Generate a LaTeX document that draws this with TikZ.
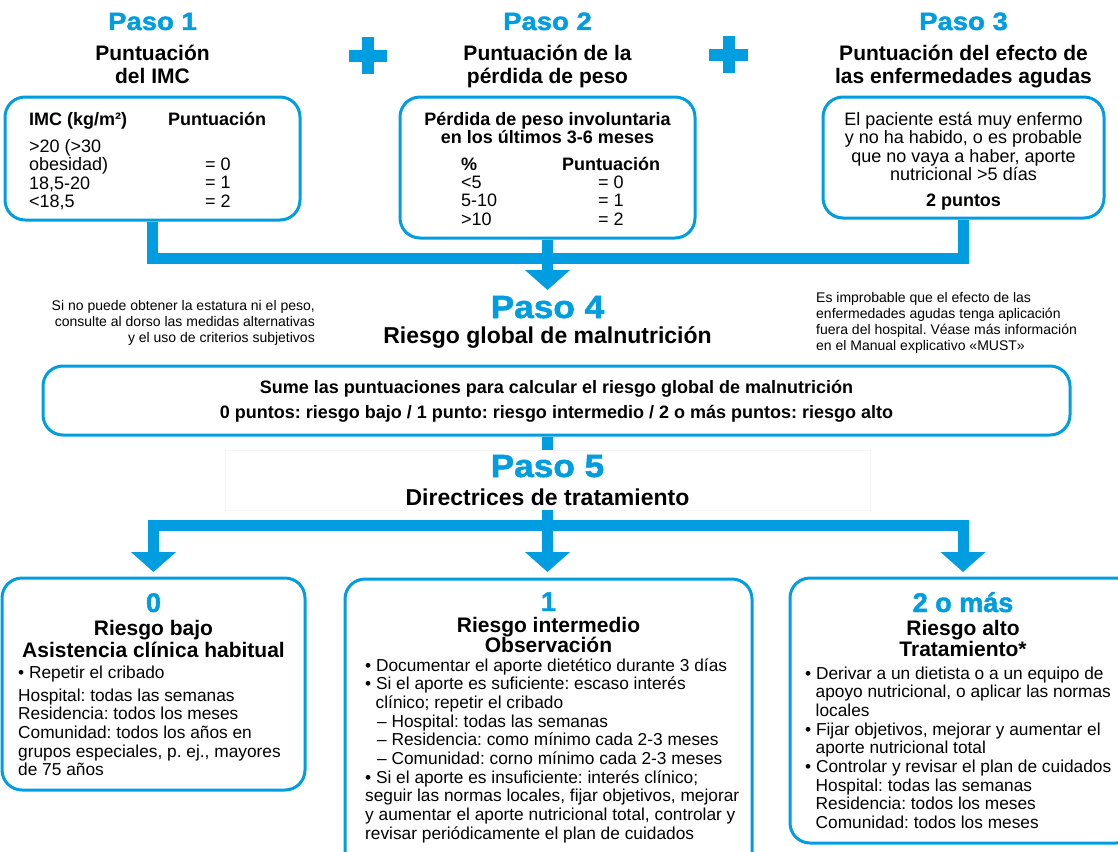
\documentclass[tikz,border=0pt]{standalone}
\usepackage{fontspec}
\setmainfont{Liberation Sans}
\newfontfamily\pasofont{Liberation Sans Bold}[FakeBold=1.6]
\usetikzlibrary{arrows.meta,calc}
\definecolor{mblue}{RGB}{0,158,224}
\newcommand{\fsz}[2]{\fontsize{#1}{#2}\selectfont}
\newcommand{\ts}{\rule{0pt}{0.8em}}
\newcommand{\pstr}[1]{\scalebox{1.1}[1]{#1}}
\setlength{\lineskiplimit}{-50pt}
\frenchspacing
\begin{document}
\begin{tikzpicture}[x=1pt,y=-1pt,
  pasoA/.style={anchor=base,text=mblue,inner sep=0,font=\fsz{25}{30}\pasofont},
  pasoB/.style={anchor=base,text=mblue,inner sep=0,font=\fsz{32}{38}\pasofont},
  head/.style={anchor=north,align=center,inner sep=0,font=\fsz{21}{23}\bfseries},
  boxs/.style={draw=mblue,line width=3pt,rounded corners=20pt,inner sep=0,fill=white},
  tb/.style={inner sep=0,font=\fsz{18}{18.5}\bfseries},
  tr/.style={inner sep=0,font=\fsz{18}{18.5}},
  br/.style={inner sep=0,font=\fsz{17.3}{18.65}},
  bt/.style={anchor=north,align=center,inner sep=0,font=\fsz{21}{21}\bfseries},
  bn/.style={anchor=base,text=mblue,inner sep=0,font=\fsz{27}{30}\pasofont},
  note/.style={inner sep=0,font=\fsz{14}{16}},
  conn/.style={draw=mblue,line width=11pt,line join=miter},
  tipa/.style={-{Triangle[width=44pt,length=20pt]}}
]
\useasboundingbox (0,0) rectangle (1118,851);
\clip (0,0) rectangle (1118,851);

% ---------- Step 1-3 headings ----------
\node[pasoA] (p1) at (152.5,30) {\pstr{Paso 1}};
\node[head] (h1) at (152.5,43.2) {\ts Puntuación\\del IMC};
\node[pasoA] (p2) at (547.5,30) {\pstr{Paso 2}};
\node[head] (h2) at (547.5,43.2) {\ts Puntuación de la\\pérdida de peso};
\node[pasoA] (p3) at (963.5,30) {\pstr{Paso 3}};
\node[head] (h3) at (963.5,43.2) {\ts Puntuación del efecto de\\las enfermedades agudas};

% plus signs
\fill[mblue] (349,50) rectangle (387,62);
\fill[mblue] (362,37) rectangle (374,74);
\fill[mblue] (709,49) rectangle (748,61);
\fill[mblue] (722.5,36) rectangle (734.5,73);

% ---------- top connectors ----------
\coordinate (barc) at (547.5,258);
\coordinate (p4tip) at (547.5,290);

% ---------- boxes 1-3 ----------
\node[boxs,minimum width=295pt,minimum height=123pt] (b1) at (152.5,158.5) {};
\node[boxs,minimum width=295pt,minimum height=141pt] (b2) at (547.5,167.5) {};
\node[boxs,minimum width=281pt,minimum height=121pt] (b3) at (963.5,157.5) {};

\draw[conn] (b1.south) |- (barc) -| (b3.south);
\draw[conn,tipa] (b2.south) -- (p4tip);

% box 1 content
\node[tb,anchor=base west] (b1h1) at (29,125) {IMC (kg/m²)};
\node[tb,anchor=base west] (b1h2) at (168,125) {Puntuación};
\node[tr,anchor=north west,align=left] (b1c1) at (29,137.6) {\ts >20 (>30\\obesidad)\\18,5-20\\<18,5};
\node[tr,anchor=north west,align=left] (b1c2) at (205,155.6) {\ts = 0\\= 1\\= 2};

% box 2 content
\node[tb,anchor=north,align=center] (b2h) at (547.5,110.6) {\ts Pérdida de peso involuntaria\\en los últimos 3-6 meses};
\node[tb,anchor=base west] (b2h1) at (461,170) {\%};
\node[tb,anchor=base west] (b2h2) at (562,170) {Puntuación};
\node[tr,anchor=north west,align=left] (b2c1) at (461,173.6) {\ts <5\\5-10\\>10};
\node[tr,anchor=north west,align=left] (b2c2) at (598,173.6) {\ts = 0\\= 1\\= 2};

% box 3 content
\node[tr,anchor=north,align=center] (b3t) at (963.5,110.6) {\ts El paciente está muy enfermo\\y no ha habido, o es probable\\que no vaya a haber, aporte\\nutricional >5 días};
\node[tb,anchor=base] (b3p) at (963.5,206) {2 puntos};

% ---------- Paso 4 ----------
\node[pasoB] (p4) at (547.5,318) {\pstr{Paso 4}};
\node[anchor=base,inner sep=0,font=\fsz{23}{26}\bfseries] (p4t) at (547.5,343) {Riesgo global de malnutrición};

\node[note,anchor=north east,align=right] (nl) at (315,298.8) {\ts Si no puede obtener la estatura ni el peso,\\consulte al dorso las medidas alternativas\\y el uso de criterios subjetivos};
\node[note,anchor=north west,align=left] (nr) at (816,290.8) {\ts Es improbable que el efecto de las\\enfermedades agudas tenga aplicación\\fuera del hospital. Véase más información\\en el Manual explicativo «MUST»};

% sum box
\node[boxs,minimum width=1027pt,minimum height=69pt] (sum) at (556.5,400.5) {};
\node[anchor=north,align=center,inner sep=0,font=\fsz{18}{25}\bfseries] (sumt) at (556.5,378.6) {\ts Sume las puntuaciones para calcular el riesgo global de malnutrición\\0 puntos: riesgo bajo / 1 punto: riesgo intermedio / 2 o más puntos: riesgo alto};

% ---------- Paso 5 ----------
\coordinate (hub) at (547.5,525);
\node[draw=black!4,fill=white,inner sep=0,minimum width=645pt,minimum height=60pt] (p5bg) at (547.5,480) {};
\draw[conn] (sum.south -| hub) -- (p5bg.north -| hub);
\node[pasoB] (p5) at (547.5,477) {\pstr{Paso 5}};
\node[anchor=base,inner sep=0,font=\fsz{23}{26}\bfseries] (p5t) at (547.5,505) {Directrices de tratamiento};

% ---------- bottom boxes ----------
\node[boxs,minimum width=303pt,minimum height=212pt] (c0) at (153.5,684) {};
\node[boxs,minimum width=407pt,minimum height=301pt] (c1) at (548.5,729.5) {};
\node[boxs,minimum width=346pt,minimum height=265pt] (c2) at (963,710.5) {};

\coordinate (t0) at (153.5,572);
\coordinate (t1) at (547.5,572);
\coordinate (t2) at (963,572);
\draw[conn] (p5bg.south -| hub) -- (hub);
\draw[conn,tipa] (hub) -| (t0);
\draw[conn,tipa] (hub) -- (t1);
\draw[conn,tipa] (hub) -| (t2);

% box 0
\node[bn] (c0n) at (153.5,612) {0};
\node[bt] (c0t) at (153.5,618.2) {\ts Riesgo bajo\\[1pt]Asistencia clínica habitual};
\node[br,anchor=base west] (c0b) at (18,678) {• Repetir el cribado};
\node[br,anchor=north west,align=left] (c0l) at (18,687.2) {\ts Hospital: todas las semanas\\Residencia: todos los meses\\Comunidad: todos los años en\\grupos especiales, p. ej., mayores\\de 75 años};

% box 1
\node[bn] (c1n) at (548.5,611) {1};
\node[bt,font=\fsz{21}{20}\bfseries] (c1t) at (548.5,615.2) {\ts Riesgo intermedio\\Observación};
\node[br,anchor=north west,align=left] (c1l) at (365,657.2) {\ts • Documentar el aporte dietético durante 3 días\\
• Si el aporte es suficiente: escaso interés\\
\hspace*{10.5pt}clínico; repetir el cribado\\
\hspace*{12pt}– Hospital: todas las semanas\\
\hspace*{12pt}– Residencia: como mínimo cada 2-3 meses\\
\hspace*{12pt}– Comunidad: corno mínimo cada 2-3 meses\\
• Si el aporte es insuficiente: interés clínico;\\
seguir las normas locales, fijar objetivos, mejorar\\
y aumentar el aporte nutricional total, controlar y\\
revisar periódicamente el plan de cuidados};

% box 2
\node[bn] (c2n) at (963,612) {2 o más};
\node[bt] (c2t) at (963,618.2) {\ts Riesgo alto\\Tratamiento*};
\node[br,anchor=north west,align=left] (c2l) at (805,665.2) {\ts • Derivar a un dietista o a un equipo de\\
\hspace*{10.5pt}apoyo nutricional, o aplicar las normas\\
\hspace*{10.5pt}locales\\
• Fijar objetivos, mejorar y aumentar el\\
\hspace*{10.5pt}aporte nutricional total\\
• Controlar y revisar el plan de cuidados\\
\hspace*{10.5pt}Hospital: todas las semanas\\
\hspace*{10.5pt}Residencia: todos los meses\\
\hspace*{10.5pt}Comunidad: todos los meses};
\end{tikzpicture}
\end{document}
